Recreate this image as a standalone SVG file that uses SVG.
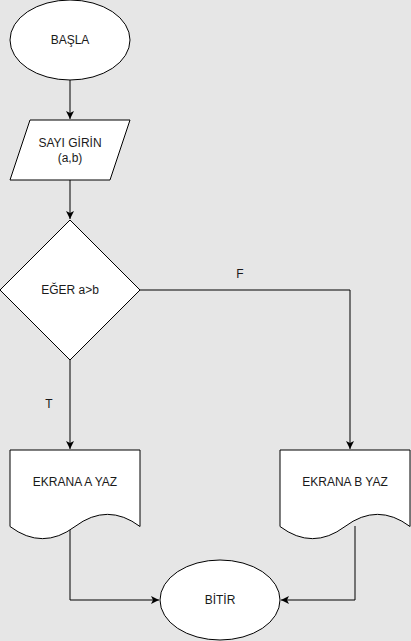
<svg xmlns="http://www.w3.org/2000/svg" width="411" height="641" viewBox="0 0 411 641">
<style>
.shape{fill:#ffffff;stroke:#000000;stroke-width:1}
.edge{fill:none;stroke:#000000;stroke-width:1}
.lbl{font-family:"Liberation Sans",Arial,sans-serif;font-size:12px;fill:#1a1a1a;text-anchor:middle;dominant-baseline:central}
</style>
<defs>
<marker id="arr" viewBox="0 0 10 10" refX="10" refY="5" markerWidth="8" markerHeight="8" markerUnits="userSpaceOnUse" orient="auto">
<path d="M0,0 L10,5 L0,10 L2.5,5 z" fill="#000000"/>
</marker>
</defs>
<rect width="411" height="641" fill="#e6e6e6"/>
<g id="connectors">
<path class="edge" d="M70,80 L70,119" marker-end="url(#arr)"/>
<path class="edge" d="M70,180 L70,219" marker-end="url(#arr)"/>
<path class="edge" d="M70,360 L70,449" marker-end="url(#arr)"/>
<path class="edge" d="M140,290 L350,290 L350,449" marker-end="url(#arr)"/>
<path class="edge" d="M70,530 L70,600 L159,600" marker-end="url(#arr)"/>
<path class="edge" d="M355,526 L355,600 L281,600" marker-end="url(#arr)"/>
<text class="lbl" x="49" y="404">T</text>
<text class="lbl" x="240" y="274">F</text>
</g>
<g id="start">
<ellipse class="shape" cx="70" cy="40" rx="60" ry="40"/>
<text class="lbl" x="70" y="40">BAŞLA</text>
</g>
<g id="input">
<polygon class="shape" points="30,120 130,120 110,180 10,180"/>
<text class="lbl" x="70" y="143">SAYI GİRİN</text>
<text class="lbl" x="70" y="158">(a,b)</text>
</g>
<g id="decision">
<polygon class="shape" points="70,220 140,290 70,360 0,290"/>
<text class="lbl" x="70" y="290">EĞER a&gt;b</text>
</g>
<g id="printA">
<path class="shape" d="M10,450 L140,450 L140,526.5 Q107.5,502.2 75,526.5 Q42.5,550.8 10,526.5 Z"/>
<text class="lbl" x="75" y="482">EKRANA A YAZ</text>
</g>
<g id="printB">
<path class="shape" d="M280,450 L410,450 L410,526.5 Q377.5,502.2 345,526.5 Q312.5,550.8 280,526.5 Z"/>
<text class="lbl" x="345" y="482">EKRANA B YAZ</text>
</g>
<g id="end">
<ellipse class="shape" cx="220" cy="600" rx="60" ry="40"/>
<text class="lbl" x="220" y="600">BİTİR</text>
</g>
</svg>
